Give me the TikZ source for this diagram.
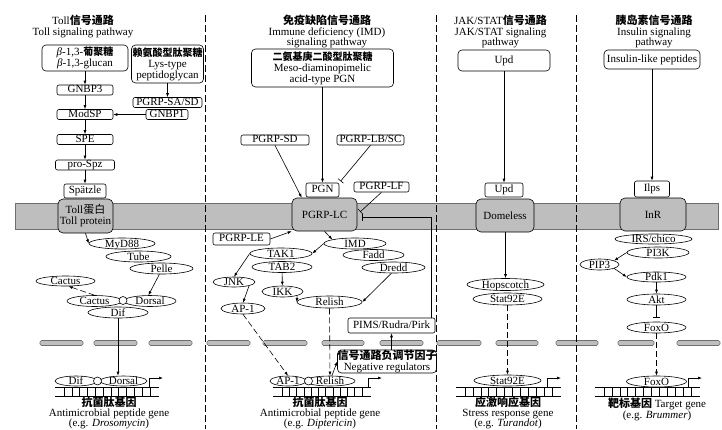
\documentclass[tikz,border=0pt]{standalone}
\usepackage{fontspec}
\setmainfont{Liberation Serif}
\newfontfamily\cjk{Noto Sans CJK SC}
\usetikzlibrary{arrows.meta,positioning,shapes.geometric}
\definecolor{membgray}{HTML}{BEBEBE}
\definecolor{membline}{HTML}{6E6E6E}
\newcommand{\zh}[1]{{\fontsize{10}{11}\selectfont\cjk\bfseries #1}}
\newcommand{\zhl}[1]{{\fontsize{11}{11}\selectfont\cjk\bfseries #1}}
\newcommand{\zhr}[1]{{\cjk #1}}

\begin{document}
\begin{tikzpicture}[x=1pt,y=-1pt,
  every node/.style={font=\fontsize{11}{11}\selectfont},
  mol/.style={draw,rounded corners=2pt,fill=white,line width=0.6pt,inner sep=0pt,minimum height=10pt,text height=7.5pt,text depth=2.5pt},
  lig/.style={mol,minimum height=14pt},
  src/.style={draw,rounded corners=4pt,fill=white,line width=0.6pt,inner sep=1pt,align=center},
  rcpt/.style={draw,rounded corners=5pt,fill=membgray,line width=0.6pt,inner sep=0pt,align=center},
  prot/.style={draw,ellipse,fill=white,line width=0.6pt,inner sep=0pt,minimum height=11pt,text height=7pt,text depth=0pt},
  link/.style={draw,circle,fill=white,line width=0.6pt,inner sep=0pt,minimum size=8pt},
  heading/.style={align=center,inner sep=0pt,font={\fontsize{11}{10.5}\selectfont\lineskiplimit=-2pt}},
  genelabel/.style={heading,anchor=south,font={\fontsize{11}{10}\selectfont\lineskiplimit=-2pt}},
  arr/.style={-{Latex[length=4pt,width=3pt]},line width=0.6pt},
  darr/.style={arr,dash pattern=on 6pt off 3pt},
  inh/.style={-{Bar[width=7pt]},line width=0.6pt},
  divider/.style={line width=0.8pt,dash pattern=on 7pt off 3pt},
  nucmem/.style={draw=membline,fill=membgray,rounded corners=1.5pt,line width=0.6pt},
  dna/.style={line width=0.6pt}
]
\useasboundingbox (0,0) rectangle (722,429);
\clip (0,0) rectangle (722,429);

% cell membrane, nuclear membrane, column dividers
\draw[draw=membline,fill=membgray,line width=0.6pt] (15,203) rectangle (718,229);
\foreach \sx/\ex in {40/83,94/137,149/192,207/250,263/307,322/364,380/423,437/481,496/538,556/598,618/654,677/720}
  \draw[nucmem] (\sx,340.5) rectangle (\ex,345.5);
\foreach \dx in {205,436,576}
  \draw[divider] (\dx,15) -- (\dx,429);

% Toll
\node[heading] (tolltitle) at (83,26.6) {Toll\zhl{信号通路}\\Toll signaling pathway};
\node[src,minimum width=86pt,minimum height=26pt] (glucan) at (85,58) {\textit{β}-1,3-\zh{葡聚糖}\\\textit{β}-1,3-glucan};
\node[src,minimum width=71pt,minimum height=38pt] (lys) at (167.5,64) {\zh{赖氨酸型肽聚糖}\\Lys-type\\peptidoglycan};
\node[mol,minimum width=56pt] (gnbp3) at (85,90) {GNBP3};
\node[mol,minimum width=69pt] (pgrpsa) at (167.5,102.5) {PGRP-SA/SD};
\node[mol,minimum width=56pt] (modsp) at (85,114.5) {ModSP};
\node[mol,minimum width=42pt] (gnbp1) at (167,114.5) {GNBP1};
\node[mol,minimum width=56pt] (spe) at (85,139.5) {SPE};
\node[mol,minimum width=59pt] (prospz) at (85,165) {pro-Spz};
\node[lig,minimum width=42pt] (spz) at (85,191) {Spätzle};
\node[rcpt,minimum width=55pt,minimum height=34pt] (toll) at (85.5,216) {Toll\zhr{蛋白}\\Toll protein};
\node[prot,minimum width=66pt] (myd) at (122,243.5) {MyD88};
\node[prot,minimum width=65pt] (tube) at (138.5,256.5) {Tube};
\node[prot,minimum width=63pt] (pelle) at (161.5,268.5) {Pelle};
\node[prot,minimum width=59pt,minimum height=10pt] (cactusfree) at (65.5,281) {Cactus};
\node[prot,minimum width=55pt] (cactus) at (94.5,301) {Cactus};
\node[prot,minimum width=52pt] (dorsal) at (150,301) {Dorsal};
\node[link] (ctlink) at (123,300.5) {};
\node[prot,minimum width=60pt] (dif) at (118,312.5) {Dif};
\node[prot,minimum width=42pt,minimum height=10pt] (difn) at (76,381) {Dif};
\node[prot,minimum width=47pt,minimum height=10pt] (dorsaln) at (123.5,381) {Dorsal};
\node[link] (ddlink) at (97.5,381) {};
\node[genelabel] (tollgene) at (109,429) {\zhl{抗菌肽基因}\\Antimicrobial peptide gene\\(e.g. \textit{Drosomycin})};

\draw[arr] (glucan) -- (gnbp3);
\draw[arr] (gnbp3) -- (modsp);
\draw[arr] (modsp) -- (spe);
\draw[arr] (spe) -- (prospz);
\draw[arr] (prospz) -- (spz);
\draw[arr] (lys) -- (pgrpsa);
\draw[arr] (gnbp1) -- (modsp);
\draw[arr] (toll.south) -- (myd.west);
\draw[arr] (pelle.250) -- (dorsal.105);
\draw[darr] (cactus.north) -- (cactusfree.-60);
\draw[arr] (dif.south) -- (dif.south |- dorsaln.north);

% IMD
\node[heading] (imdtitle) at (327,31.8) {\zhl{免疫缺陷信号通路}\\Immune deficiency (IMD)\\signaling pathway};
\node[src,minimum width=142pt,minimum height=38pt] (dap) at (322.5,68) {\zh{二氨基庚二酸型肽聚糖}\\Meso-diaminopimelic\\acid-type PGN};
\node[mol,minimum width=68pt] (pgrpsd) at (275,140) {PGRP-SD};
\node[mol,minimum width=67pt] (lbsc) at (370.5,140) {PGRP-LB/SC};
\node[lig,minimum width=33pt] (pgn) at (322.5,190) {PGN};
\node[mol,minimum width=55pt] (pgrplf) at (381.5,187) {PGRP-LF};
\node[rcpt,minimum width=65pt,minimum height=33pt] (pgrplc) at (324.5,214.5) {PGRP-LC};
\node[mol,minimum width=57pt,minimum height=12pt] (pgrple) at (241.5,239) {PGRP-LE};
\node[prot,minimum width=62pt] (imd) at (355,243.5) {IMD};
\node[prot,minimum width=61pt] (fadd) at (373.5,255) {Fadd};
\node[prot,minimum width=63pt] (dredd) at (393.5,267.5) {Dredd};
\node[prot,minimum width=62pt] (tak1) at (281,253.5) {TAK1};
\node[prot,minimum width=60pt] (tab2) at (282,267) {TAB2};
\node[prot,minimum width=42pt,minimum height=10pt] (jnk) at (234,282) {JNK};
\node[prot,minimum width=44pt] (ap1) at (243,308.5) {AP-1};
\node[prot,minimum width=41pt] (ikk) at (282.5,291.5) {IKK};
\node[prot,minimum width=65pt,minimum height=12pt] (relish) at (329.5,302) {Relish};
\node[mol,minimum width=87pt,minimum height=15pt] (pims) at (391.5,325.5) {PIMS/Rudra/Pirk};
\node[src,minimum width=98pt,minimum height=23pt,inner sep=0pt] (negreg) at (387,361.5) {\zhl{信号通路负调节因子}\\Negative regulators};
\node[prot,minimum width=36pt,minimum height=10pt] (ap1n) at (288,381) {AP-1};
\node[prot,minimum width=50pt,minimum height=10pt] (relishn) at (330,381) {Relish};
\node[link] (arlink) at (308.5,381) {};
\node[genelabel] (imdgene) at (320,429) {\zhl{抗菌肽基因}\\Antimicrobial peptide gene\\(e.g. \textit{Diptericin})};

\draw[arr] (dap) -- (pgn);
\draw[arr] (pgrpsd.south) -- ([xshift=10pt]pgrplc.north west);
\draw[inh,shorten >=2pt] (lbsc.south) -- (pgn.north east);
\draw[inh,shorten >=4pt] (pgrplf.south) -- (pgrplc.east);
\draw[inh,shorten >=5pt] ([xshift=-4pt]pims.north east) |- ([yshift=-2.5pt]pgrplc.east);
\draw[arr] (pgrple.east) -- (pgrplc.south west);
\draw[arr] (pgrplc.south) -- (imd.170);
\draw[arr] (imd.west) -- (tak1.east);
\draw[arr] (tak1.west) -- (jnk.north);
\draw[arr] (jnk.south east) -- (ap1.north);
\draw[arr] (tab2) -- (ikk);
\draw[arr] (ikk.south east) -- (relish.west);
\draw[arr] (dredd.250) -- (relish.east);
\draw[darr] (ap1.south) -- (ap1n.north);
\draw[darr] (relish.south) -- (relishn.north);
\draw[arr] (relishn.70) -- (negreg.west);
\draw[arr] (negreg.north -| pims.south) -- (pims.south);

% JAK/STAT
\node[heading] (jaktitle) at (500.5,31.8) {JAK/STAT\zhl{信号通路}\\JAK/STAT signaling\\pathway};
\node[src,minimum width=92pt,minimum height=21pt] (updsrc) at (504,60.5) {Upd};
\node[lig,minimum width=38pt] (upd) at (504,190) {Upd};
\node[rcpt,minimum width=58pt,minimum height=33pt] (dome) at (505,215.5) {Domeless};
\node[prot,minimum width=77pt,minimum height=12pt] (hop) at (505.5,284.5) {Hopscotch};
\node[prot,minimum width=69pt,minimum height=12pt] (stat) at (507.5,299) {Stat92E};
\node[prot,minimum width=67pt] (statn) at (507.5,380.5) {Stat92E};
\node[genelabel] (jakgene) at (508,429) {\zhl{应激响应基因}\\Stress response gene\\(e.g. \textit{Turandot})};

\draw[arr] (updsrc) -- (upd);
\draw[arr] (dome.south -| hop.north) -- (hop.north);
\draw[darr] (stat) -- (statn);

% Insulin
\node[heading] (institle) at (654,31.8) {\zhl{胰岛素信号通路}\\Insulin signaling\\pathway};
\node[src,minimum width=96pt,minimum height=19pt] (ilpsrc) at (652,59.5) {Insulin-like peptides};
\node[lig,minimum width=35pt,minimum height=16pt] (ilps) at (652,189) {Ilps};
\node[rcpt,minimum width=66pt,minimum height=33pt] (inr) at (653,214.5) {InR};
\node[prot,minimum width=77pt,minimum height=10pt] (irs) at (653.5,239) {IRS/chico};
\node[prot,minimum width=62pt] (pi3k) at (658,252.5) {PI3K};
\node[prot,minimum width=39pt] (pip3) at (599.5,264.5) {PIP3};
\node[prot,minimum width=59pt,minimum height=10pt] (pdk1) at (656.5,277) {Pdk1};
\node[prot,minimum width=59pt] (akt) at (656.5,299.5) {Akt};
\node[prot,minimum width=59pt] (foxo) at (656.5,327.5) {FoxO};
\node[prot,minimum width=60pt] (foxon) at (656.5,381.5) {FoxO};
\node[heading] (insgene) at (657,409.5) {\zhl{靶标基因} Target gene\\(e.g. \textit{Brummer})};

\draw[arr] (ilpsrc) -- (ilps);
\draw[arr] (pi3k.west) -- (pip3.15);
\draw[arr] (pip3.-15) -- (pdk1.west);
\draw[arr] (pdk1) -- (akt);
\draw[inh,shorten >=4pt] (akt) -- (foxo);
\draw[darr] (foxo) -- (foxon);

% target genes
\foreach \lx/\rx/\tx/\nm in {55/159/149/toll,273/371/368/imd,456/561/547/jak,595/700/688/ins}{
  \draw[dna] (\lx,387.5) -- (\rx,387.5) (\lx,396) -- (\rx,396);
  \foreach \k in {0,...,11}
    \draw[dna] ({\lx+9+\k*(\rx-\lx-18)/11},387.5) -- ++(0,8.5);
  \coordinate (tss\nm) at (\tx,387.5);
  \coordinate (tsstip\nm) at (\tx+14,378);
  \draw[arr] (tss\nm) |- (tsstip\nm);
}
\end{tikzpicture}
\end{document}
